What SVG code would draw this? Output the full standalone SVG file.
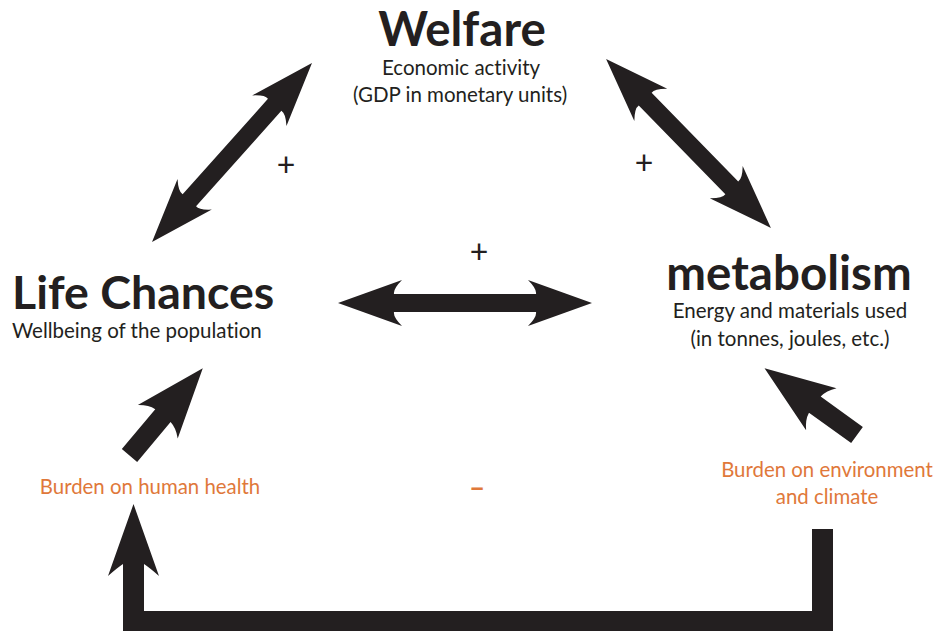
<svg xmlns="http://www.w3.org/2000/svg" width="934" height="631" viewBox="0 0 934 631">
<style>
.arr{fill:#231f20}
.t{font-family:Lato,"Open Sans",sans-serif;fill:#231f20;font-variant-ligatures:none}
.h{font-weight:bold;font-size:47.5px}
.s{font-size:20.5px;font-weight:400}
.p{font-size:32px;font-weight:400}
.o{font-family:Lato,"Open Sans",sans-serif;fill:#e0783a;font-size:20.4px;font-weight:400;font-variant-ligatures:none}
.d{font-weight:bold;font-size:28px}
</style>
<rect width="934" height="631" fill="#fff"/>
<g id="connectors">
<path class="arr" transform="translate(465,303)" d="M-127,0 L-63,-23 Q-72,-14 -71,-9 L71,-9 Q72,-14 63,-23 L127,0 L63,23 Q72,14 71,9 L-71,9 Q-72,14 -63,23 Z"/>
<path class="arr" transform="translate(232,152.5) rotate(-48.2)" d="M-120,0 L-56,-23 Q-65,-14 -64,-9 L64,-9 Q65,-14 56,-23 L120,0 L56,23 Q65,14 64,9 L-64,9 Q-65,14 -56,23 Z"/>
<path class="arr" transform="translate(688.5,143.5) rotate(45.7)" d="M-118,0 L-54,-23 Q-63,-14 -62,-9 L62,-9 Q63,-14 54,-23 L118,0 L54,23 Q63,14 62,9 L-62,9 Q-63,14 -54,23 Z"/>
<path class="arr" transform="translate(129.5,455.5) rotate(-50)" d="M0,-10 L52,-10 Q51,-18 44,-26 L114,0 L44,26 Q51,18 52,10 L0,10 Z"/>
<path class="arr" transform="translate(857,435) rotate(-144.2)" d="M0,-10 L52,-10 Q51,-18 44,-26 L114,0 L44,26 Q51,18 52,10 L0,10 Z"/>
<path class="arr" d="M144,611 L812,611 L812,529 L833,529 L833,640 L123,640 L123,564 Q117,568 108,576 L133.5,504 L159,576 Q150,568 144,564 Z"/>
</g>
<g id="welfare">
<text class="t h" x="462" y="46" text-anchor="middle">Welfare</text>
<text class="t s" x="461" y="75" text-anchor="middle">Economic activity</text>
<text class="t s" x="460" y="102" text-anchor="middle">(GDP in monetary units)</text>
</g>
<g id="life-chances">
<text class="t h" x="12" y="309" style="font-size:46.5px">Life Chances</text>
<text class="t s" x="12" y="338">Wellbeing of the population</text>
</g>
<g id="metabolism">
<text class="t h" x="789" y="290" text-anchor="middle">metabolism</text>
<text class="t s" x="790" y="318" text-anchor="middle">Energy and materials used</text>
<text class="t s" x="790" y="346" text-anchor="middle">(in tonnes, joules, etc.)</text>
</g>
<g id="labels">
<text class="t p" x="286" y="176" text-anchor="middle">+</text>
<text class="t p" x="644" y="174" text-anchor="middle">+</text>
<text class="t p" x="479" y="263" text-anchor="middle">+</text>
<text class="o" x="150" y="494" text-anchor="middle">Burden on human health</text>
<text class="o d" x="477" y="497" text-anchor="middle">–</text>
<text class="o" x="827" y="477" text-anchor="middle">Burden on environment</text>
<text class="o" x="827" y="504" text-anchor="middle">and climate</text>
</g>
</svg>
